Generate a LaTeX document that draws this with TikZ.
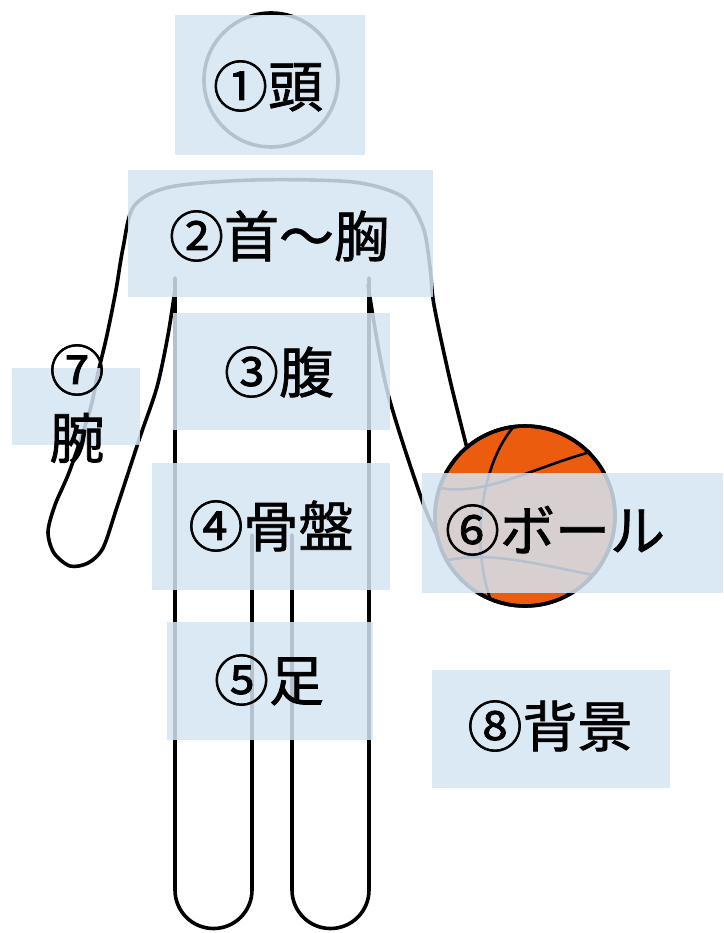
\documentclass[tikz,border=0pt]{standalone}
\usepackage{fontspec}
\newfontfamily\jp[FakeBold=1.3]{Noto Sans CJK JP}
\definecolor{boxblue}{RGB}{213,229,243}
\definecolor{ballorange}{RGB}{236,92,14}
\tikzset{
  figline/.style={line width=3.6pt, line cap=round, line join=round, draw=black},
  seam/.style={line width=2.6pt, line cap=round, draw=black},
  partbox/.style={fill=boxblue, fill opacity=0.85},
  tag/.style={font=\jp\fontsize{55}{60}\selectfont, inner sep=0pt, text=black},
}
\begin{document}
\begin{tikzpicture}[x=1pt, y=-1pt]
  \useasboundingbox (0,0) rectangle (723,933);

  % head
  \draw[figline] (271,80) circle[radius=67];

  % shoulders with both outer arm lines and the left hand
  \draw[figline] plot[smooth] coordinates {
    (175,290) (168,335) (157,387) (140,437) (117,507) (103,548)
    (88,563) (70,566) (54,553) (48,532) (55,505) (70,470) (90,410)
    (98,373) (107,335) (116,290) (123,248) (134,206) (170,187)
    (253,180) (353,182) (403,197) (423,227) (430,267) (434,305)
    (450,380) (468,452)};

  % inner right arm
  \draw[figline] plot[smooth] coordinates {(368,285) (387,390) (423,503) (442,545)};

  % torso and legs
  \draw[figline] (175,278) -- (175,890) arc[start angle=180, end angle=0, radius=38.5]
                 -- (252,535);
  \draw[figline] (292,535) -- (292,890) arc[start angle=180, end angle=0, radius=38.5]
                 -- (369,278);

  % basketball
  \filldraw[fill=ballorange, figline] (525,516) circle[radius=90];
  \begin{scope}
    \clip (525,516) circle[radius=89];
    \draw[seam] (516,424) .. controls (478,465) and (470,555) .. (494,608);
    \draw[seam] (432,486) .. controls (480,500) and (530,468) .. (594,451);
    \draw[seam] (440,562) .. controls (490,548) and (550,568) .. (600,576);
  \end{scope}
  \draw[figline] (525,516) circle[radius=90];

  % shaded part areas
  \fill[partbox] (175,15)  rectangle (365,155);
  \fill[partbox] (128,170) rectangle (433,297);
  \fill[partbox] (173,313) rectangle (390,430);
  \fill[partbox] (152,463) rectangle (390,590);
  \fill[partbox] (167,622) rectangle (373,740);
  \fill[partbox] (422,473) rectangle (723,593);
  \fill[partbox] (12,368)  rectangle (140,445);
  \fill[partbox] (432,670) rectangle (670,788);

  % part labels
  \node[tag] (head)   at (268,86)  {①頭};
  \node[tag] (chest)  at (279,236) {②首～胸};
  \node[tag] (belly)  at (279,372) {③腹};
  \node[tag] (pelvis) at (271,526) {④骨盤};
  \node[tag] (legs)   at (269,680) {⑤足};
  \node[tag] (ball)   at (555,530) {⑥ボール};
  \node[tag] (armno)  at (77,370)  {⑦};
  \node[tag] (arm)    at (77,438)  {腕};
  \node[tag] (back)   at (550,726) {⑧背景};
\end{tikzpicture}
\end{document}
